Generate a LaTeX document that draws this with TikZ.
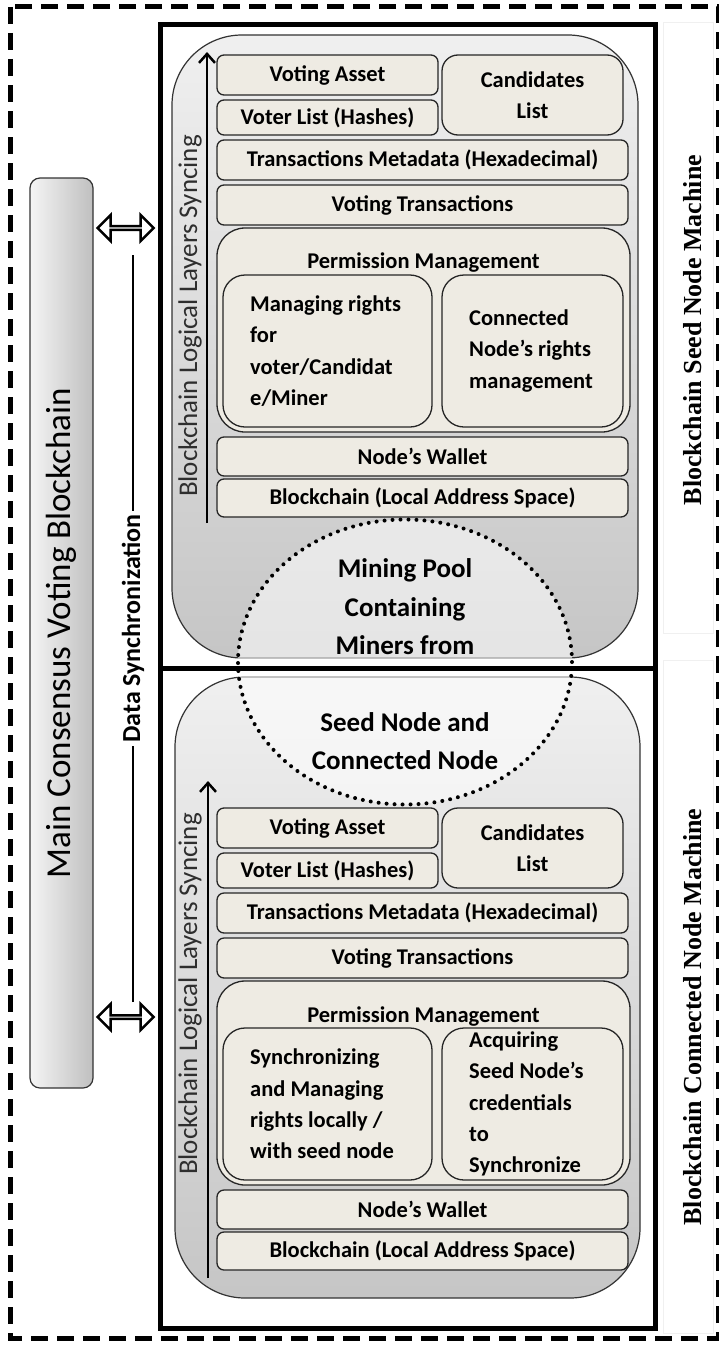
\documentclass[tikz,border=0pt]{standalone}
\usepackage{fontspec}
\setmainfont{Carlito}
\newfontfamily\timesfont{Liberation Serif}
\usetikzlibrary{shapes.geometric,shapes.arrows,arrows.meta,calc}
\definecolor{boxfill}{HTML}{EEEBE3}
\newcommand{\lab}{\fontsize{22.5}{31.3}\selectfont\bfseries}

\tikzset{
  layer/.style={draw=black!85, line width=1.3pt, fill=boxfill, rounded corners=7pt, inner sep=0pt, font=\lab},
  rights/.style={font=\lab, align=left, anchor=west, inner sep=0pt},
  machine/.style={draw=black, line width=5pt, inner sep=0pt},
  backdrop/.style={draw=black!80, line width=1.2pt, rounded corners=70pt, top color=gray!12, bottom color=gray!45, inner sep=0pt},
  syncarrow/.style={double arrow, draw, line width=2.5pt, fill=white, inner sep=0pt,
    minimum width=26pt, minimum height=56pt, double arrow head extend=8pt},
  pooltext/.style={font=\fontsize{27}{38.5}\selectfont\bfseries, align=center, inner sep=0pt},
  syncing/.style={rotate=90, text=black!82, font=\fontsize{27}{30}\selectfont, inner sep=0pt},
  machinelabel/.style={rotate=90, font=\timesfont\bfseries\fontsize{26}{30}\selectfont, inner sep=0pt},
}

% one stack of logical layers, #1 = name prefix
\newcommand{\layerstack}[3]{
  \node[layer, minimum width=221pt, minimum height=40pt] (#1asset) at (327.5,75) {Voting Asset};
  \node[layer, minimum width=221pt, minimum height=35pt] (#1voters) at (327.5,117.5) {Voter List (Hashes)};
  \node[layer, rounded corners=16pt, minimum width=181pt, minimum height=80pt, align=center] (#1cand) at (532.5,95) {Candidates\\List};
  \node[layer, minimum width=411pt, minimum height=40pt] (#1meta) at (422.5,160) {Transactions Metadata (Hexadecimal)};
  \node[layer, minimum width=411pt, minimum height=40pt] (#1trans) at (422.5,205) {Voting Transactions};
  \node[layer, rounded corners=28pt, minimum width=413pt, minimum height=204pt] (#1perm) at (423.5,330) {};
  \node[font=\lab, inner sep=0pt] (#1permt) at (423.5,263) {Permission Management};
  \node[layer, rounded corners=22pt, minimum width=209pt, minimum height=152pt] (#1left) at (327.5,351) {};
  \node[layer, rounded corners=22pt, minimum width=181pt, minimum height=152pt] (#1right) at (532.5,351) {};
  \node[rights] (#1lefttxt) at (250,351) {#2};
  \node[rights] (#1righttxt) at (469,351) {#3};
  \node[layer, minimum width=411pt, minimum height=39pt] (#1wallet) at (422.5,456.5) {Node’s Wallet};
  \node[layer, minimum width=411pt, minimum height=38pt] (#1chain) at (422.5,498) {Blockchain (Local Address Space)};
}

\begin{document}
\begin{tikzpicture}[x=1pt, y=-1pt]
  \useasboundingbox (0,0) rectangle (719,1346);

  % grey backdrops of both machines
  \node[backdrop, minimum width=466pt, minimum height=623pt] (seedbg) at (405,346.5) {};
  \node[backdrop, minimum width=465pt, minimum height=621pt] (connbg) at (407.5,987.5) {};

  % seed node layers
  \layerstack{s}{Managing rights\\for\\voter/Candidat\\e/Miner}{Connected\\Node’s rights\\management}
  \coordinate (sbot) at (207,523);
  \coordinate (stop) at (207,52);
  \draw[line width=2.5pt, -{Straight Barb[length=9pt, width=16pt, line width=2.5pt]}] (sbot) -- (stop);
  \node[syncing] (ssync) at (190,316) {Blockchain Logical Layers Syncing};

  % connected node layers
  \begin{scope}[yshift=-753pt]
    \layerstack{c}{Synchronizing\\and Managing\\rights locally /\\with seed node}{Acquiring\\Seed Node’s\\credentials\\to\\Synchronize}
    \coordinate (cbot) at (208,525);
    \coordinate (ctop) at (208,28);
    \draw[line width=2.5pt, -{Straight Barb[length=9pt, width=16pt, line width=2.5pt]}] (cbot) -- (ctop);
    \node[syncing] (csync) at (190,241) {Blockchain Logical Layers Syncing};
  \end{scope}

  % mining pool shared by both machines
  \node[ellipse, minimum width=334pt, minimum height=285pt, fill=white, fill opacity=0.55,
        draw, line width=4pt, line cap=round, dash pattern=on 0pt off 8pt] (pool) at (405,662) {};
  \node[pooltext] (pooltop) at (405,607) {Mining Pool\\Containing\\Miners from};
  \node[pooltext] (poolbot) at (405,741) {Seed Node and\\Connected Node};

  % machine frames
  \node[machine, minimum width=495pt, minimum height=643pt] (seed) at (407.5,346.5) {};
  \node[machine, minimum width=495pt, minimum height=660pt] (conn) at (407.5,998) {};

  % main chain
  \node[draw=black!80, line width=1.2pt, rounded corners=10pt, left color=gray!8, right color=gray!50,
        minimum width=63pt, minimum height=910pt] (bar) at (61.5,633) {};
  \node[rotate=90, font=\fontsize{35}{40}\selectfont, inner sep=0pt] (bartxt) at (bar.center) {Main Consensus Voting Blockchain};

  \node[syncarrow] (synctop) at ($(bar.east |- 0,228)!0.5!(seed.west |- 0,228)$) {};
  \node[syncarrow] (syncbot) at ($(bar.east |- 0,1017)!0.5!(conn.west |- 0,1017)$) {};

  \coordinate (dtop) at (133,255);
  \coordinate (dbot) at (133,1002);
  \draw[line width=1.2pt] (dbot) -- node[sloped, fill=white, inner sep=3pt, font=\fontsize{26}{30}\selectfont\bfseries] (dsync) {Data Synchronization} (dtop);

  % machine names
  \node[draw=gray!12, minimum width=611pt, minimum height=50pt, rotate=90] (seedlab) at (688,327.5) {};
  \node[draw=gray!12, minimum width=673pt, minimum height=50pt, rotate=90] (connlab) at (688,996.5) {};
  \node[machinelabel] (seedname) at (693,330) {Blockchain Seed Node Machine};
  \node[machinelabel] (connname) at (693,1017) {Blockchain Connected Node Machine};

  % outer frame
  \draw[line width=5pt, dash pattern=on 17pt off 9pt] (10,7) rectangle (718,1338);
\end{tikzpicture}
\end{document}
